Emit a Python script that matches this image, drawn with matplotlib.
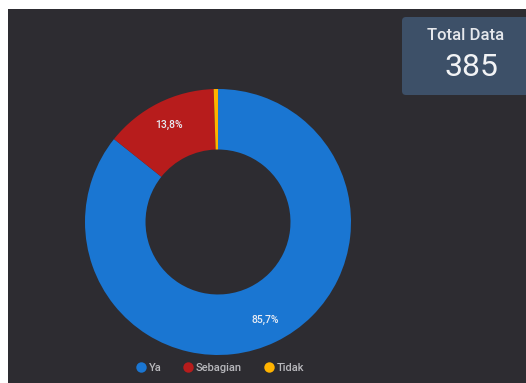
import numpy as np
import matplotlib.pyplot as plt
from matplotlib.patches import FancyBboxPatch

labels = ['Ya', 'Sebagian', 'Tidak']
counts = [330, 53, 2]
colors = ['#1a76d2', '#b71c1c', '#ffb300']
total = sum(counts)

bg = '#2d2c31'
plt.rcParams['font.family'] = ['Roboto', 'DejaVu Sans']

fig = plt.figure(figsize=(5.26, 3.83), dpi=100)
fig.patch.set_facecolor('white')

# dark panel, white strip on top and left
W, H = 526, 383
panel = fig.add_axes([8 / W, 0, 1 - 8 / W, 1 - 9 / H])
panel.set_facecolor(bg)
panel.set_xticks([])
panel.set_yticks([])
for s in panel.spines.values():
    s.set_visible(False)

# donut
cx, cy, r = 218, 222, 133
ax = fig.add_axes([(cx - r) / W, (H - cy - r) / H, 2 * r / W, 2 * r / H])
ax.set_facecolor('none')
wedges, _ = ax.pie(counts, colors=colors, startangle=90, counterclock=False,
                   wedgeprops=dict(width=0.455, edgecolor='none'))
ax.set_xlim(-1, 1)
ax.set_ylim(-1, 1)
ax.set_aspect('equal')

start = 90
for n in counts:
    frac = n / total
    mid = np.deg2rad(start - frac * 360 / 2)
    start -= frac * 360
    if frac < 0.05:
        continue
    rr = 0.82
    ax.text(rr * np.cos(mid), rr * np.sin(mid),
            f'{frac * 100:.1f}%'.replace('.', ','),
            ha='center', va='center', color='#e8ecf4', fontsize=7.5,
            fontweight='medium')

# legend
handles = [plt.Line2D([], [], marker='o', linestyle='none', markersize=7.5,
                      markerfacecolor=c, markeredgecolor='none') for c in colors]
fig.legend(handles, labels, loc='center', bbox_to_anchor=(219 / W, 1 - 368 / H),
           ncol=3, frameon=False, labelcolor='#b8b8bc',
           prop=dict(size=8, weight='medium'),
           handletextpad=0.1, columnspacing=1.8, handlelength=1.2)

# total box
box_ax = fig.add_axes([0, 0, 1, 1], facecolor='none')
box_ax.set_xlim(0, W)
box_ax.set_ylim(H, 0)
box_ax.axis('off')
box_ax.add_patch(FancyBboxPatch((402, 17), 128, 78,
                                boxstyle='round,pad=0,rounding_size=4',
                                facecolor='#3d5068', edgecolor='none'))
box_ax.text(466, 36, 'Total Data', ha='center', va='center',
            color='#e6e8ec', fontsize=12, fontweight='medium')
box_ax.text(471, 67, str(total), ha='center', va='center',
            color='#f2f3f5', fontsize=23)

fig.savefig('out.png', dpi=100, facecolor=fig.get_facecolor())
